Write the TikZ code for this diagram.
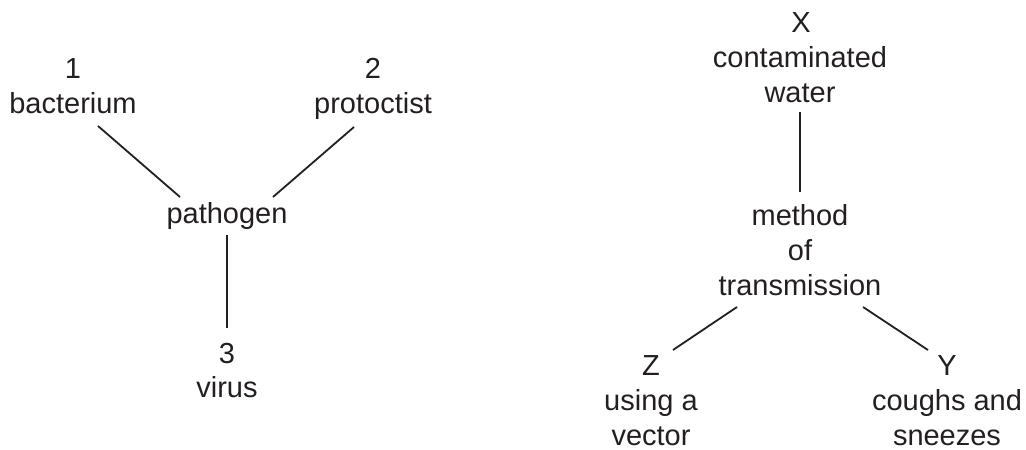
\documentclass[tikz,border=0pt]{standalone}
\usepackage{fontspec}
\setmainfont{Liberation Sans}
\definecolor{ink}{HTML}{231F20}
\begin{document}
\begin{tikzpicture}[x=1pt,y=-1pt,
  lbl/.style={anchor=base,inner sep=0pt,text=ink,font=\fontsize{29}{35}\selectfont},
  conn/.style={draw=ink,line width=1.8pt}]
\useasboundingbox (0,0) rectangle (1026,450);
% left tree
\node[lbl] (n1) at (73,78) {1};
\node[lbl] (bac) at (73,113) {bacterium};
\node[lbl] (n2) at (373,78) {2};
\node[lbl] (pro) at (373,113) {protoctist};
\node[lbl] (path) at (227,223) {pathogen};
\node[lbl] (n3) at (227,363) {3};
\node[lbl] (vir) at (227,397) {virus};
\coordinate (bacE) at (98,126);
\coordinate (pathL) at (180,197);
\coordinate (proE) at (354,127);
\coordinate (pathR) at (273,197);
\coordinate (pathB) at (227,235);
\coordinate (virT) at (227,328);
\draw[conn] (bacE) -- (pathL);
\draw[conn] (proE) -- (pathR);
\draw[conn] (pathB) -- (virT);
% right tree
\node[lbl] (X) at (801,32) {X};
\node[lbl] (cont) at (800,67) {contaminated};
\node[lbl] (wat) at (800,102) {water};
\node[lbl] (meth) at (800,225) {method};
\node[lbl] (of) at (800,260) {of};
\node[lbl] (trans) at (800,295) {transmission};
\node[lbl] (Z) at (651,375) {Z};
\node[lbl] (usg) at (651,410) {using a};
\node[lbl] (vec) at (651,445) {vector};
\node[lbl] (Y) at (947,375) {Y};
\node[lbl] (cgh) at (947,410) {coughs and};
\node[lbl] (snz) at (947,445) {sneezes};
\coordinate (watB) at (800,112);
\coordinate (methT) at (800,192);
\coordinate (transL) at (737,307);
\coordinate (zT) at (673,350);
\coordinate (transR) at (863,307);
\coordinate (yT) at (928,350);
\draw[conn] (watB) -- (methT);
\draw[conn] (transL) -- (zT);
\draw[conn] (transR) -- (yT);
\end{tikzpicture}
\end{document}
